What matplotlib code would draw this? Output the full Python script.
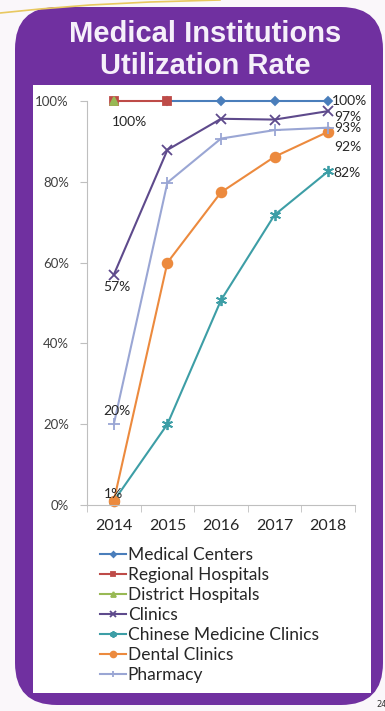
import numpy as np
import matplotlib
matplotlib.use("Agg")
import matplotlib.pyplot as plt
from matplotlib.patches import FancyBboxPatch
from matplotlib.ticker import PercentFormatter, FixedLocator

years = ["2014", "2015", "2016", "2017", "2018"]
medical_centers = [np.nan, 1.00, 1.00, 1.00, 1.00]
regional_hospitals = [1.00, 1.00, np.nan, np.nan, np.nan]
district_hospitals = [1.00, np.nan, np.nan, np.nan, np.nan]
clinics = [0.57, 0.879, 0.956, 0.954, 0.975]
chinese_medicine = [0.01, 0.20, 0.507, 0.718, 0.826]
dental_clinics = [0.01, 0.60, 0.774, 0.862, 0.924]
pharmacy = [0.20, 0.798, 0.907, 0.928, 0.934]

series = [
    ("Medical Centers", medical_centers, "#4a7ebb", "D", 4.5),
    ("Regional Hospitals", regional_hospitals, "#be4b48", "s", 6),
    ("District Hospitals", district_hospitals, "#98b954", "^", 6),
    ("Clinics", clinics, "#5e4a8c", "x", 7),
    ("Chinese Medicine Clinics", chinese_medicine, "#3d9ea6", (6, 2, 0), 8),
    ("Dental Clinics", dental_clinics, "#ec8a3e", "o", 7),
    ("Pharmacy", pharmacy, "#9aa6d4", "+", 8),
]

W, H = 385, 711
fig = plt.figure(figsize=(W / 100, H / 100), dpi=100)
fig.patch.set_facecolor("#faf7fa")

# background decoration drawn in pixel units
bg = fig.add_axes([0, 0, 1, 1], zorder=0)
bg.add_patch(FancyBboxPatch((15, 7), 368, 698, boxstyle="round,pad=0,rounding_size=42",
                            fc="#7030a0", ec="none"))
bg.add_patch(FancyBboxPatch((33, 85), 338, 608, boxstyle="square,pad=0",
                            fc="white", ec="none"))
bg.plot([0, 40, 90, 150, 220], [13, 9, 5, 2, 0], color="#e8c860", lw=1.2)
bg.set_xlim(0, W)
bg.set_ylim(H, 0)
bg.axis("off")
bg.text(205, 50, "Medical Institutions\nUtilization Rate", color="#f6f0fa",
        fontsize=21, fontweight="bold", family="Liberation Sans",
        ha="center", va="center", linespacing=1.15)
bg.text(376, 709, "24", fontsize=6, color="#333333", ha="left", va="bottom")

ax = fig.add_axes([87 / W, 1 - 505 / H, 268 / W, 404 / H], zorder=1)
ax.set_facecolor("none")
x = np.arange(len(years))
for name, vals, color, marker, ms in series:
    ax.plot(x, vals, color=color, marker=marker, ms=ms, lw=1.5, mew=1.3,
            label=name, clip_on=False)

ax.set_xlim(-0.5, 4.5)
ax.set_ylim(0, 1)
ax.yaxis.set_major_locator(FixedLocator([0, 0.2, 0.4, 0.6, 0.8, 1.0]))
ax.yaxis.set_major_formatter(PercentFormatter(1.0, decimals=0))
ax.set_xticks(x)
ax.set_xticklabels(years)
ax.set_xticks(np.arange(-0.5, 5, 1), minor=True)
ax.tick_params(axis="x", which="major", length=0, pad=10, labelsize=11.5,
               labelcolor="#262626")
ax.tick_params(axis="x", which="minor", length=5, color="#bfbfbf")
ax.tick_params(axis="y", length=5, color="#bfbfbf", labelsize=9.5,
               labelcolor="#404040", pad=8)
for lbl in ax.get_xticklabels() + ax.get_yticklabels():
    lbl.set_family("Lato")
for s in ["top", "right"]:
    ax.spines[s].set_visible(False)
for s in ["left", "bottom"]:
    ax.spines[s].set_color("#bfbfbf")

labels = [
    (0, district_hospitals[0], "100%", (16, -21)),
    (4, medical_centers[4], "100%", (21, 0)),
    (4, clinics[4], "97%", (20, -6)),
    (4, pharmacy[4], "93%", (20, 0)),
    (4, dental_clinics[4], "92%", (20, -15)),
    (4, chinese_medicine[4], "82%", (19, -2)),
    (0, clinics[0], "57%", (3, -12)),
    (0, pharmacy[0], "20%", (3, 13)),
    (0, dental_clinics[0], "1%", (0, 7)),
]
for xi, v, txt, off in labels:
    ax.annotate(txt, (xi, v), xytext=off, textcoords="offset pixels",
                ha="center", va="center", fontsize=10, family="Lato",
                color="#262626", annotation_clip=False)

leg = fig.legend(*ax.get_legend_handles_labels(), loc="upper left",
                 bbox_to_anchor=(100 / W, 1 - 547 / H), frameon=False,
                 borderpad=0, borderaxespad=0, handlelength=1.5,
                 handletextpad=0.1, labelspacing=0.23, markerscale=0.6,
                 prop={"family": "Lato", "size": 12.5})
for t in leg.get_texts():
    t.set_color("#262626")

fig.savefig("out.png", dpi=100, facecolor=fig.get_facecolor())
